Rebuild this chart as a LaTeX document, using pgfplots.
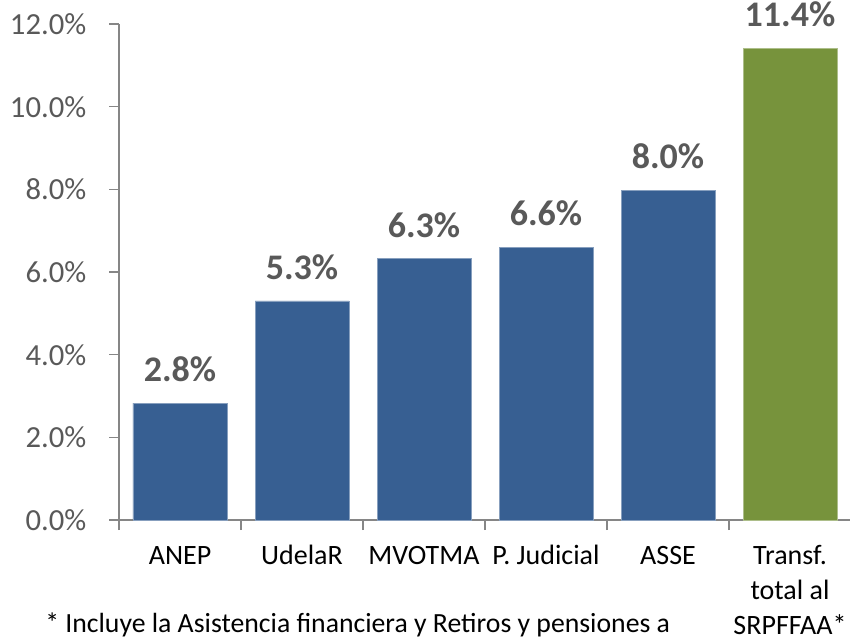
\documentclass[border=0pt]{standalone}
\usepackage{pgfplots}
\pgfplotsset{compat=1.18}
\usepackage{fontspec}
\setmainfont{Carlito}
\definecolor{barblue}{HTML}{375F92}
\definecolor{bargreen}{HTML}{77933C}
\definecolor{labgray}{HTML}{595959}
\definecolor{axgray}{HTML}{868686}
\begin{document}
\begin{tikzpicture}
\path[use as bounding box] (0,0) rectangle (637.5pt,-480pt);
\begin{axis}[
  at={(89.25pt,-390pt)}, anchor=south west,
  scale only axis, width=549pt, height=372pt,
  xmin=0.5, xmax=6.5, ymin=0, ymax=12,
  axis x line*=bottom, axis y line*=left,
  axis line style={draw=axgray, line width=0.9pt, -},
  ybar, bar width=70.5pt,
  xtick={1,...,6},
  xticklabels={\strut ANEP, \strut UdelaR, \strut MVOTMA, \strut P. Judicial, \strut ASSE, {\strut Transf.\\\strut total al\\\strut SRPFFAA*}},
  xticklabel style={align=center, font=\fontsize{21}{26}\selectfont, text=black, anchor=north, inner sep=0pt, yshift=-7.6pt},
  minor xtick={0.5,1.5,...,6.5},
  every major x tick/.append style={draw=none},
  every minor x tick/.append style={draw=axgray, line width=0.9pt},
  every major y tick/.append style={draw=axgray, line width=0.9pt},
  minor tick length=7.5pt, major tick length=7.5pt,
  tick align=outside,
  ytick={0,2,...,12},
  yticklabel={\pgfmathprintnumber[fixed,fixed zerofill,precision=1]{\tick}\%},
  yticklabel style={font=\fontsize{23}{27}\selectfont, text=labgray, xshift=-13.5pt},
  /pgf/number format/assume math mode=true,
  nodes near coords={\pgfmathprintnumber[fixed,fixed zerofill,precision=1]{\pgfplotspointmeta}\%},
  every node near coord/.append style={font=\bfseries\fontsize{27}{30}\selectfont, text=labgray, anchor=base, yshift=16pt, inner sep=0pt},
  clip=false,
]
\addplot[fill=barblue, draw=barblue!60!white, bar shift=0pt] coordinates {(1,2.83) (2,5.3) (3,6.33) (4,6.6) (5,7.98)};
\addplot[fill=bargreen, draw=bargreen!60!white, bar shift=0pt] coordinates {(6,11.42)};
\end{axis}
\node[anchor=base west, inner sep=0pt, font=\fontsize{20.8}{24}\selectfont] at (33.75pt,-474.5pt) {* Incluye la Asistencia financiera y Retiros y pensiones a};
\end{tikzpicture}
\end{document}
